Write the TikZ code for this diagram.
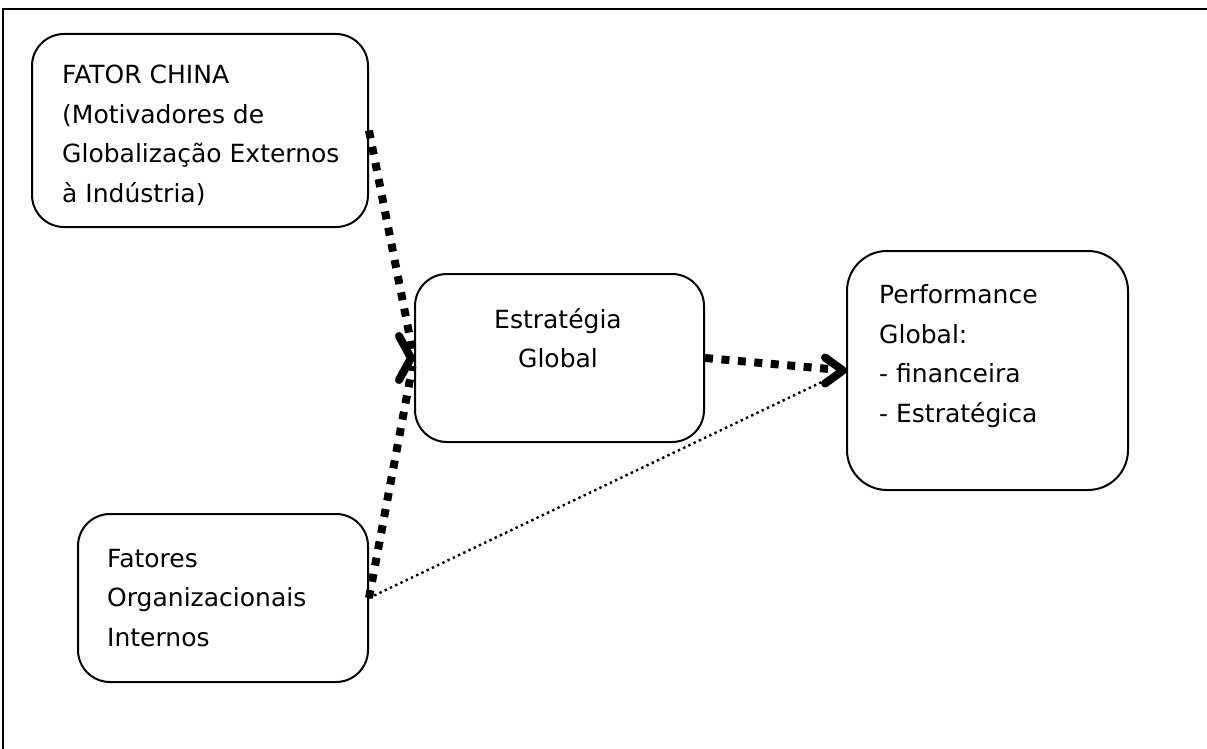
\documentclass[tikz,border=0pt]{standalone}
\usepackage{fontspec}
\setmainfont{DejaVu Sans}
\begin{document}
\begin{tikzpicture}[x=1pt,y=-1pt,
  box/.style={draw, line width=2pt, rounded corners=32pt, inner sep=0pt},
  label/.style={inner sep=0pt, font=\fontsize{25pt}{39.5pt}\selectfont},
  heavydots/.style={line width=8pt, dash pattern=on 8pt off 8.5pt},
  finedots/.style={line width=2.4pt, dash pattern=on 2.4pt off 3.4pt},
  chevron/.style={line width=8pt, line cap=round, line join=round}]
\useasboundingbox (0,0) rectangle (1207,749);

% outer frame (top and left edges)
\draw[line width=2pt] (3,749) -- (3,9) -- (1207,9);

% boxes
\node[box, minimum width=336pt, minimum height=193pt] (china) at (200,130.5) {};
\node[box, minimum width=289pt, minimum height=168pt] (estrategia) at (559.5,358) {};
\node[box, rounded corners=40pt, minimum width=281pt, minimum height=239pt] (performance) at (987.5,370.5) {};
\node[box, minimum width=290pt, minimum height=168pt] (fatores) at (223,598) {};

% texts
\node[label, align=left, anchor=west] (chinatxt) at (62,135.5)
  {FATOR CHINA\\(Motivadores de\\Globalização Externos\\à Indústria)};
\node[label, align=center] (estrtxt) at (558,338) {Estratégia\\Global};
\node[label, align=left, anchor=west] (perftxt) at (879,356)
  {Performance\\Global:\\- financeira\\- Estratégica};
\node[label, align=left, anchor=west] (fattxt) at (107,598)
  {Fatores\\Organizacionais\\Internos};

% connectors
\draw[heavydots, shorten >=8pt] (china.east) -- (estrategia.west);
\draw[heavydots, shorten >=8pt] (fatores.east) -- (estrategia.west);
\draw[heavydots, shorten >=12pt] (estrategia.east) -- (performance.west);
\draw[finedots, shorten >=12pt] (fatores.east) -- (performance.west);

% arrow heads
\draw[chevron] ([shift={(-15pt,-22pt)}]estrategia.west) -- ([xshift=-3pt]estrategia.west)
  -- ([shift={(-15pt,22pt)}]estrategia.west);
\draw[chevron] ([shift={(-21pt,-13pt)}]performance.west) -- ([xshift=-3pt]performance.west)
  -- ([shift={(-21pt,13pt)}]performance.west);
\end{tikzpicture}
\end{document}
